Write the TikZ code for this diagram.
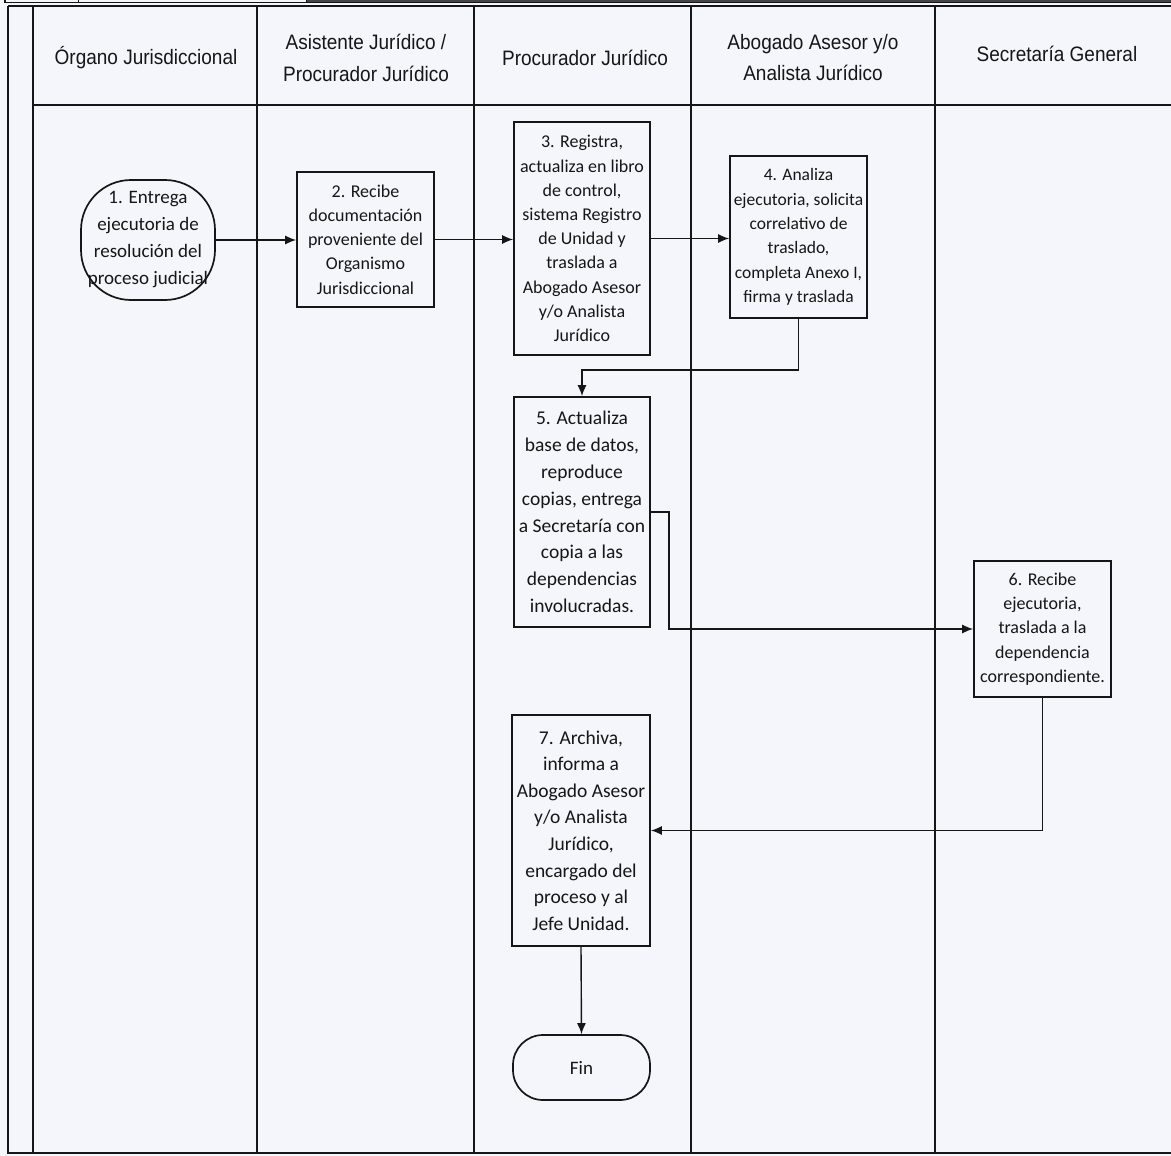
\documentclass[tikz,border=0pt]{standalone}
\usepackage{fontspec}
\setmainfont{Carlito}
\newfontfamily\headfont{Liberation Sans}
\usetikzlibrary{arrows.meta,calc}
\definecolor{paper}{RGB}{244,246,251}
\definecolor{ink}{RGB}{22,22,25}
\tikzset{
  lane/.style={draw=ink,line width=1.6pt},
  thinlane/.style={draw=ink,line width=1.1pt},
  head/.style={font=\headfont\fontsize{19}{29}\selectfont,align=center,text=ink,yscale=1.1},
  stepbox/.style={draw=ink,line width=1.7pt,fill=paper,align=center,inner sep=0pt,text=ink},
  term/.style={draw=ink,line width=1.7pt,fill=paper,align=center,inner sep=0pt,text=ink},
  flow/.style={draw=ink,line width=1.4pt,-{Latex[length=11pt,width=9pt]}}
}
\begin{document}
\begin{tikzpicture}[x=1pt,y=-1pt]
\useasboundingbox (0,0) rectangle (1171,1156);
\clip (0,0) rectangle (1171,1156);
\fill[paper] (0,0) rectangle (1171,1156);
% top strip (cut off)
\draw[thinlane] (5,-2) -- (5,2.5) -- (1171,2.5);
\draw[thinlane] (78.5,-2) -- (78.5,2.5);
\draw[thinlane] (306.5,-2) -- (306.5,2.5);
\draw[line width=2pt,draw=ink!80] (306.5,1.5) -- (1171,1.5);
% frame
\draw[lane] (8,6) -- (1175,6);
\draw[lane] (8,6) -- (8,1153) -- (1175,1153);
\draw[lane] (33,6) -- (33,1153);
\draw[lane] (33,105) -- (1175,105);
\foreach \xx in {257,474,691,935} \draw[lane] (\xx,6) -- (\xx,1153);
% headers
\node[head] (h1) at (146,58) {Órgano Jurisdiccional};
\node[head] (h2) at (366,57.5) {Asistente Jurídico /\\Procurador Jurídico};
\node[head] (h3) at (585,58) {Procurador Jurídico};
\node[head] (h4) at (813,57.5) {Abogado Asesor y/o\\Analista Jurídico};
\node[head] (h5) at (1057,54) {Secretaría General};
% nodes
\node[term,rounded corners=50pt,minimum width=134pt,minimum height=120pt,font=\fontsize{19}{27}\selectfont] (n1) at (148,240)
  {1. Entrega\\ejecutoria de\\resolución del\\proceso judicial};
\node[stepbox,minimum width=137pt,minimum height=135pt,font=\fontsize{18}{24.2}\selectfont] (n2) at (365.5,239.5)
  {2. Recibe\\documentación\\proveniente del\\Organismo\\Jurisdiccional};
\node[stepbox,minimum width=136pt,minimum height=233pt,font=\fontsize{18}{24.2}\selectfont] (n3) at (582,238.5)
  {3. Registra,\\actualiza en libro\\de control,\\sistema Registro\\de Unidad y\\traslada a\\Abogado Asesor\\y/o Analista\\Jurídico};
\node[stepbox,minimum width=137pt,minimum height=162pt,font=\fontsize{17.5}{24.4}\selectfont] (n4) at (798.5,237)
  {4. Analiza\\ejecutoria, solicita\\correlativo de\\traslado,\\completa Anexo I,\\firma y traslada};
\node[stepbox,minimum width=136pt,minimum height=230pt,font=\fontsize{19.5}{26.8}\selectfont] (n5) at (582,512)
  {5. Actualiza\\base de datos,\\reproduce\\copias, entrega\\a Secretaría con\\copia a las\\dependencias\\involucradas.};
\node[stepbox,minimum width=137pt,minimum height=136pt,font=\fontsize{18}{24.3}\selectfont] (n6) at (1042.5,629)
  {6. Recibe\\ejecutoria,\\traslada a la\\dependencia\\correspondiente.};
\node[stepbox,minimum width=138pt,minimum height=231pt,font=\fontsize{19.5}{26.6}\selectfont] (n7) at (581,830.5)
  {7. Archiva,\\informa a\\Abogado Asesor\\y/o Analista\\Jurídico,\\encargado del\\proceso y al\\Jefe Unidad.};
\node[term,rounded corners=30pt,minimum width=137pt,minimum height=65pt,font=\fontsize{19}{24}\selectfont] (fin) at (581.5,1067.5) {Fin};
% connectors
\coordinate (b45) at (n4.south |- 0,370);
\coordinate (b56) at ($(n5.east)+(18,0)$);
\draw[flow] (n1.east) -- (n1.east -| n2.west);
\draw[flow] (n2.east) -- (n2.east -| n3.west);
\draw[flow] (n3.east) -- (n3.east -| n4.west);
\draw[flow] (n4.south) -- (b45) -| (n5.north);
\draw[flow] (n5.east) -- (b56) |- (n6.west);
\draw[flow] (n6.south) |- (n7.east);
\draw[flow] (n7.south) -- (fin.north);
\end{tikzpicture}
\end{document}
